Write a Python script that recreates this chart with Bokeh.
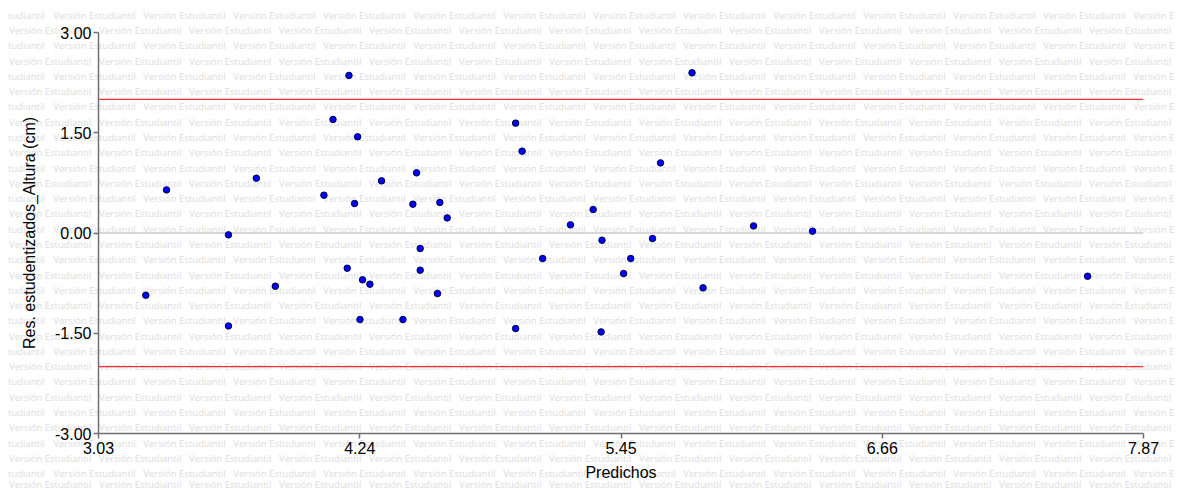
from bokeh.plotting import figure
from bokeh.models import (Span, FixedTicker, Range1d, NumeralTickFormatter,
                          Column, Div)
from bokeh.embed import file_html
from bokeh.resources import INLINE

# Predicted values and studentized residuals
predichos = [3.249, 3.345, 3.632, 3.632, 3.761, 3.849, 4.074, 4.116, 4.182,
             4.190, 4.216, 4.230, 4.241, 4.253, 4.287, 4.341, 4.440, 4.486,
             4.503, 4.520, 4.520, 4.600, 4.611, 4.645, 4.962, 4.992, 4.962,
             5.087, 5.216, 5.321, 5.358, 5.362, 5.462, 5.495, 5.596, 5.633,
             5.779, 5.830, 6.064, 6.337, 7.611]
residuos = [-0.931, 0.645, -0.028, -1.391, 0.820, -0.796, 0.566, 1.699,
            -0.527, 2.358, 0.441, 1.439, -1.295, -0.701, -0.766, 0.780,
            -1.295, 0.431, 0.900, -0.232, -0.557, -0.906, 0.457, 0.226,
            1.644, 1.225, -1.430, -0.382, 0.122, 0.352, -1.480, -0.108,
            -0.607, -0.382, -0.083, 1.049, 2.397, -0.821, 0.106, 0.027,
            -0.647]

x_ticks = [3.03, 4.24, 5.45, 6.66, 7.87]
y_ticks = [-3.0, -1.5, 0.0, 1.5, 3.0]
limites = [-2.0, 2.0]

W, H = 1177, 490
LEFT, RIGHT, TOP, BOTTOM = 98, 34, 32, 57
FONT = "Liberation Sans"

# --- background sheet: "Versión Estudiantil" stamp tiled over the page ---
STAMP = "Versión Estudiantil"
spans = []


def stamp(x, y, txt):
    spans.append(f'<span style="position:absolute;left:{x:.1f}px;'
                 f'top:{y - 5:.1f}px">{txt}</span>')


for r in range(32):
    row_y = min(15.7 + r * 15.28, 484.5)
    if r % 2 == 0:
        stamp(8.0, row_y, "tudiantil")
        for k in range(1, 13):
            stamp(-36.7 + k * 90.0, row_y, STAMP)
        stamp(-36.7 + 13 * 90.0, row_y, "Versión E")
    else:
        for k in range(13):
            stamp(9.0 + k * 90.0, row_y, STAMP)

sheet = ('<div style="position:relative;width:%dpx;height:%dpx;overflow:hidden;'
         'background:white;font-family:\'Open Sans\';font-size:9.5px;'
         'line-height:10px;white-space:nowrap;color:#dcdcdc">%s</div>'
         % (W, H, "".join(spans)))
bg = Div(text=sheet, width=W, height=H,
         styles={"margin": "0px", "padding": "0px"})

# --- residual plot, drawn on a transparent sheet laid over the stamp ---
p = figure(width=W, height=H, output_backend="svg", toolbar_location=None,
           x_range=Range1d(x_ticks[0], x_ticks[-1]),
           y_range=Range1d(y_ticks[0], y_ticks[-1]),
           min_border_left=LEFT, min_border_right=RIGHT,
           min_border_top=TOP, min_border_bottom=BOTTOM,
           styles={"position": "absolute", "left": "0px", "top": "0px"})
p.outline_line_color = None
p.grid.visible = False
p.background_fill_alpha = 0
p.border_fill_alpha = 0

p.add_layout(Span(location=0, dimension="width", line_color="#cccccc",
                  line_width=1.5, level="underlay"))
for lim in limites:
    p.add_layout(Span(location=lim, dimension="width", line_color="#ff3030",
                      line_width=1.3, level="underlay"))

p.scatter(predichos, residuos, marker="circle", size=6.5,
          fill_color="#0000ff", line_color="#000040", line_width=1)

for ax, ticks, lab in ((p.xaxis[0], x_ticks, "Predichos"),
                       (p.yaxis[0], y_ticks, "Res. estudentizados_Altura (cm)")):
    ax.ticker = FixedTicker(ticks=ticks)
    ax.formatter = NumeralTickFormatter(format="0.00")
    ax.minor_tick_line_color = None
    ax.axis_line_color = "#707070"
    ax.axis_line_width = 1.5
    ax.major_tick_line_color = "#707070"
    ax.major_tick_line_width = 1.5
    ax.major_tick_in = 0
    ax.major_tick_out = 5
    ax.major_label_text_font = FONT
    ax.major_label_text_font_size = "16px"
    ax.major_label_text_color = "black"
    ax.axis_label = lab
    ax.axis_label_text_font = FONT
    ax.axis_label_text_font_size = "16px"
    ax.axis_label_text_font_style = "normal"
    ax.axis_label_text_color = "black"

p.xaxis[0].major_label_standoff = 3
p.xaxis[0].axis_label_standoff = 7
p.yaxis[0].major_label_standoff = 2
p.yaxis[0].axis_label_standoff = 14

page = Column(children=[bg, p], width=W, height=H,
              styles={"position": "relative"})

open("out.html", "w").write(file_html(page, INLINE))
